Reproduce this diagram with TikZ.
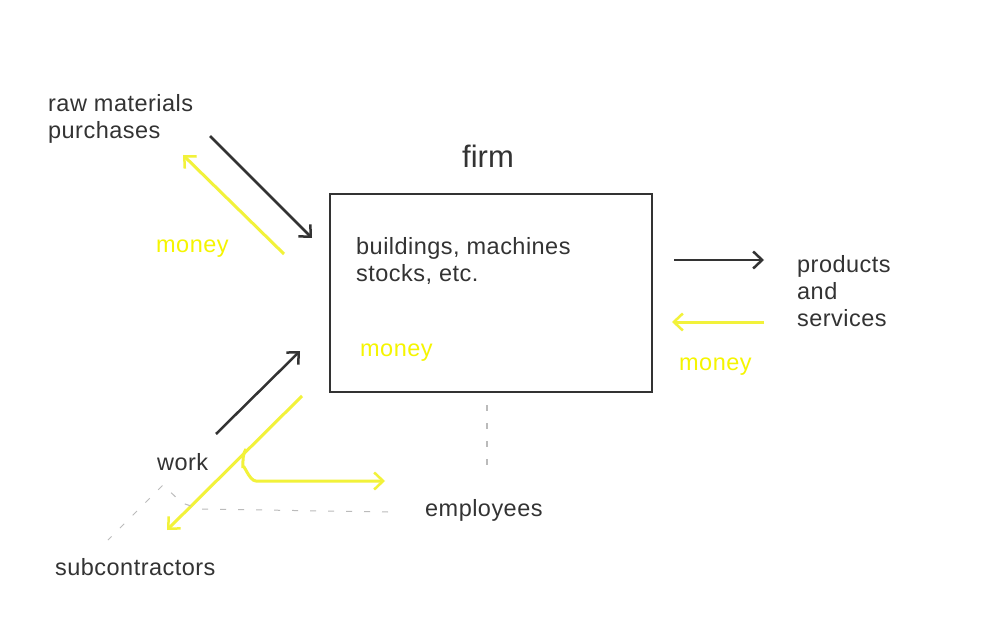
\documentclass[tikz,border=0pt]{standalone}
\usepackage{fontspec}
\setmainfont{Liberation Sans}
\usetikzlibrary{arrows.meta}
\definecolor{ink}{HTML}{333333}
\definecolor{yel}{HTML}{F2F23A}
\definecolor{ytext}{HTML}{F5F500}
\definecolor{dgray}{HTML}{BBBBBB}
\tikzset{
  lbl/.style={font=\fontsize{23.5}{27}\selectfont\addfontfeature{LetterSpace=2}, text=ink, align=left, anchor=west, inner sep=0pt},
  ylbl/.style={lbl, text=ytext},
  barb/.style={-{Straight Barb[length=9pt,width=17pt,line width=2.5pt]}},
  blk/.style={barb, draw=ink, line width=2.5pt},
  yarr/.style={barb, draw=yel, line width=3pt},
  faint/.style={draw=dgray, line width=1pt, dash pattern=on 6pt off 12pt},
}
\begin{document}
\begin{tikzpicture}[x=1pt,y=-1pt]
\useasboundingbox[fill=white] (0,0) rectangle (1007,631);
% texts
\node[lbl] (raw) at (48,119) {raw materials\\purchases};
\node[font=\fontsize{31}{36}\selectfont, text=ink, inner sep=0pt] (firmlbl) at (488,156) {firm};
\node[draw=ink, line width=2.5pt, minimum width=322pt, minimum height=198pt, inner sep=0pt] (firm) at (491,293) {};
\node[lbl] (bld) at (356,261) {buildings, machines\\stocks, etc.};
\node[ylbl] (m1) at (156,248.5) {money};
\node[ylbl] (m2) at (360,352.5) {money};
\node[ylbl] (m3) at (679,366.5) {money};
\node[lbl] (prod) at (797,291.5) {products\\and\\services};
\node[lbl] (work) at (157,462) {work};
\node[lbl] (emp) at (425,510.5) {employees};
\node[lbl] (sub) at (55,567.5) {subcontractors};
% coordinates
\coordinate (a1s) at (210,136); \coordinate (a1e) at (312,238);
\coordinate (y1s) at (284,254); \coordinate (y1e) at (183,155);
\coordinate (a2s) at (674,260); \coordinate (a2e) at (764,260);
\coordinate (y2s) at (764,322); \coordinate (y2e) at (672,322);
\coordinate (a3s) at (216,434); \coordinate (a3e) at (300,351);
\coordinate (y3s) at (302,396); \coordinate (y3e) at (167,530);
\coordinate (br) at (246,449); \coordinate (bre) at (385,481);
\coordinate (v1) at (487,405); \coordinate (v2) at (487,468);
\coordinate (d1) at (388,512); \coordinate (d2) at (200,509);
\coordinate (d3) at (163,485); \coordinate (d4) at (108,540);
% arrows
\draw[blk] (a1s) -- (a1e);
\draw[yarr] (y1s) -- (y1e);
\draw[blk] (a2s) -- (a2e);
\draw[yarr] (y2s) -- (y2e);
\draw[blk] (a3s) -- (a3e);
\draw[yarr] (y3s) -- (y3e);
\draw[yarr] (br) to[out=240,in=90] (243,468) to[out=90,in=180] (256,481) -- (bre);
% faint gray lines
\draw[draw=dgray, line width=1.5pt, dash pattern=on 6pt off 12pt] (v1) -- (v2);
\draw[faint] (d1) -- (d2) -- (182,503) -- (d3) -- (d4);
\end{tikzpicture}
\end{document}
